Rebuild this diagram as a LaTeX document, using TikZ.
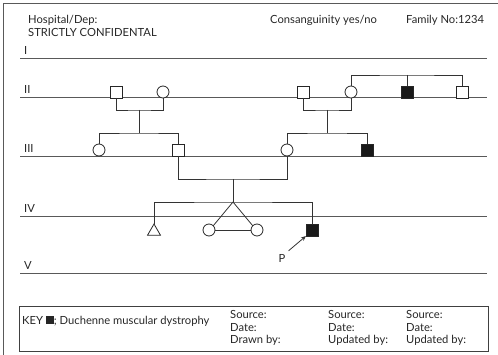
\documentclass[tikz,border=0pt]{standalone}
\usepackage{fontspec}
\setmainfont{Lato}
\usetikzlibrary{shapes.geometric,arrows.meta}
\begin{document}
\begin{tikzpicture}[x=1pt,y=-1pt,
  every node/.style={font=\fontsize{11.2}{12.8}\selectfont, text=black!85},
  ln/.style={draw=black!80, line width=0.8pt},
  gen/.style={draw=black!65, line width=0.9pt},
  male/.style={rectangle, draw=black!85, line width=0.8pt, minimum size=12pt, inner sep=0pt, outer sep=0pt, fill=white},
  female/.style={circle, draw=black!85, line width=0.8pt, minimum size=12pt, inner sep=0pt, outer sep=0pt, fill=white},
  affm/.style={male, fill=black!90},
  preg/.style={regular polygon, regular polygon sides=3, draw=black!85, line width=0.8pt, minimum size=15pt, inner sep=0pt, outer sep=0pt, fill=white},
  lbl/.style={anchor=base west, inner sep=0pt},
]
\useasboundingbox (0,0) rectangle (498,355);
% frame
\draw[gen] (3,355) -- (3,3) -- (498,3);
% header
\node[lbl] (hosp) at (28,24) {Hospital/Dep:};
\node[lbl] (conf) at (28,37) {STRICTLY CONFIDENTAL};
\node[lbl] (cons) at (270,24) {Consanguinity yes/no};
\node[lbl] (fam) at (406,24) {Family No:1234};
% generation lines and labels
\foreach \y/\t/\n in {58/I/g1,97/II/g2,156/III/g3,216/IV/g4,273/V/g5}{
  \draw[gen] (20,\y) -- (487,\y);
  \node[lbl] (\n) at (24,\y-3) {\t};
}
% generation II
\node[male] (a1) at (116,92) {};
\node[female] (a2) at (163,92) {};
\node[male] (a3) at (303,92) {};
\node[female] (a4) at (351,92) {};
\node[affm] (a5) at (407,92) {};
\node[male] (a6) at (462,92) {};
% generation III
\node[female] (b1) at (99,150) {};
\node[male] (b2) at (178,150) {};
\node[female] (b3) at (287,150) {};
\node[affm] (b4) at (367,150) {};
% generation IV
\node[preg] (c1) at (154,231.5) {};
\node[female] (c2) at (209,230) {};
\node[female] (c3) at (257,230) {};
\node[affm] (c4) at (312,230) {};
\node[inner sep=0pt] (P) at (282,258) {P};
% junction coordinates
\coordinate (m1) at (139,110);
\coordinate (s1) at (139,133);
\coordinate (m2) at (327,110);
\coordinate (s2) at (327,133);
\coordinate (s3) at (407,75);
\coordinate (m3) at (233,179);
\coordinate (s4) at (233,202);
% connectors
\draw[ln] (a1.south) |- (m1) -| (a2.south);
\draw[ln] (m1) -- (s1);
\draw[ln] (b1.north) |- (s1) -| (b2.north);
\draw[ln] (a3.south) |- (m2) -| (a4.south);
\draw[ln] (m2) -- (s2);
\draw[ln] (b3.north) |- (s2) -| (b4.north);
\draw[ln] (a4.north) |- (s3) -| (a6.north);
\draw[ln] (s3) -- (a5.north);
\draw[ln] (b2.south) |- (m3) -| (b3.south);
\draw[ln] (m3) -- (s4);
\draw[ln] (c1.corner 1) |- (s4) -| (c4.north);
\draw[ln] (s4) -- (c2.north east);
\draw[ln] (s4) -- (c3.north west);
\draw[ln] (c2.east) -- (c3.west);
\coordinate (pa) at ([shift={(3,-3)}]P.north east);
\draw[ln, -{Stealth[length=5pt,width=4pt]}] (pa) -- (c4.south west);
% key box
\node[draw=black!75, line width=0.9pt, minimum width=469pt, minimum height=45pt, inner sep=0pt, anchor=north west] (key) at (19,306) {};
\node[lbl] (keyt) at (22,324) {KEY \rule{8pt}{8pt}; Duchenne muscular dystrophy};
\node[align=left, anchor=north west, inner sep=0pt] (k1) at (230,310) {Source:\\Date:\\Drawn by:};
\node[align=left, anchor=north west, inner sep=0pt] (k2) at (328,310) {Source:\\Date:\\Updated by:};
\node[align=left, anchor=north west, inner sep=0pt] (k3) at (406,310) {Source:\\Date:\\Updated by:};
\end{tikzpicture}
\end{document}
